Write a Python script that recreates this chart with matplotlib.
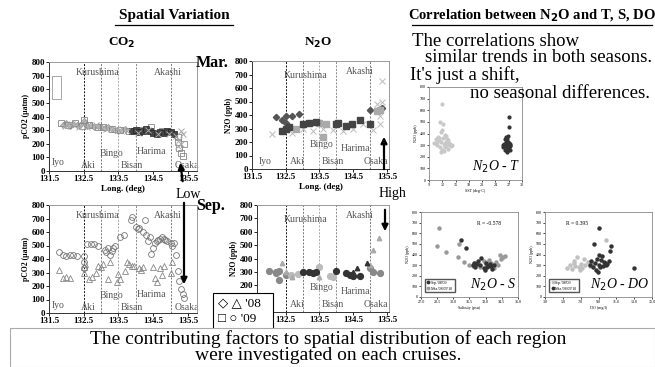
import matplotlib.pyplot as plt
from matplotlib.patches import Rectangle, FancyArrowPatch

plt.rcParams['font.family'] = ['Liberation Serif', 'DejaVu Sans']

# ---- spatial variation data (longitude deg E, value) ----
bound_lon = [132.5, 133.0, 133.5, 134.0, 135.0]
lon_ticks = [131.5, 132.5, 133.5, 134.5, 135.5]
val_ticks = [0, 100, 200, 300, 400, 500, 600, 700, 800]

# CO2, March
co2_mar_lon_a = [131.9, 132.0, 132.1, 132.2, 132.3, 132.4, 132.5, 132.55, 132.6, 132.7,
                 132.8, 132.9, 133.0, 133.1, 133.2, 133.3, 133.4, 133.5, 133.6, 133.7]
co2_mar_a = [340, 350, 330, 345, 335, 340, 365, 350, 330, 335,
             325, 330, 320, 315, 320, 305, 300, 295, 300, 305]
co2_mar_lon_b = [133.9, 134.0, 134.1, 134.2, 134.3, 134.4, 134.5, 134.6, 134.7, 134.8,
                 134.9, 135.0, 135.1]
co2_mar_b = [290, 300, 285, 295, 310, 290, 280, 275, 285, 280, 290, 285, 270]
co2_mar_lon_c = [131.95, 132.15, 132.35, 132.6, 132.85, 133.15, 133.45, 133.75, 134.05,
                 134.35, 134.65, 134.95, 135.15, 135.2, 135.25, 135.3, 135.35, 135.3]
co2_mar_c = [330, 345, 320, 325, 335, 310, 310, 295, 280,
             300, 270, 275, 260, 180, 230, 290, 270, 200]
co2_mar_lon_d = [131.85, 132.05, 132.25, 132.45, 132.5, 132.65, 132.9, 133.05, 133.3,
                 133.55, 133.8, 134.15, 134.45, 134.75, 135.2, 135.22, 135.25, 135.3,
                 135.35, 135.38]
co2_mar_d = [355, 335, 350, 330, 375, 340, 320, 325, 310,
             300, 295, 300, 320, 295, 250, 210, 170, 130, 110, 200]

# CO2, September
co2_sep_lon_o = [131.8, 131.9, 132.0, 132.1, 132.2, 132.3, 132.5, 132.5, 132.5, 132.6,
                 132.7, 132.8, 132.9, 133.1, 133.15, 133.2, 133.25, 133.3, 133.35, 133.4,
                 133.55, 133.65, 133.85, 133.9, 134.0, 134.05, 134.1, 134.2, 134.25, 134.3,
                 134.35, 134.4, 134.45, 134.5, 134.55, 134.6, 134.65, 134.7, 134.75, 134.8,
                 134.85, 134.9, 135.0, 135.05, 135.1, 135.15, 135.2, 135.25, 135.3, 135.35,
                 135.4]
co2_sep_o = [450, 430, 420, 430, 430, 425, 420, 380, 330, 510,
             510, 510, 500, 470, 450, 480, 430, 460, 480, 500,
             560, 580, 690, 710, 640, 620, 630, 600, 690, 580,
             530, 560, 440, 480, 520, 530, 540, 550, 560, 550,
             540, 530, 520, 500, 520, 430, 310, 240, 180, 140,
             110]
co2_sep_lon_t = [131.8, 131.9, 132.0, 132.1, 132.5, 132.5, 132.55, 132.65, 132.75, 132.85,
                 132.9, 133.0, 133.05, 133.2, 133.25, 133.45, 133.5, 133.55, 133.7, 133.75,
                 133.8, 133.9, 133.95, 134.1, 134.15, 134.2, 134.5, 134.55, 134.6, 134.7,
                 134.75, 134.8, 135.0, 135.05]
co2_sep_t = [320, 260, 270, 260, 300, 340, 360, 250, 270, 300,
             350, 340, 360, 250, 380, 230, 290, 250, 310, 380,
             360, 350, 350, 330, 320, 340, 340, 260, 230, 330,
             280, 350, 300, 380]

# N2O, March
n2o_mar_lon_dia = [132.2, 132.4, 132.5, 132.5, 132.7, 132.9, 135.0, 135.35]
n2o_mar_dia = [385, 360, 390, 340, 390, 410, 440, 450]
n2o_mar_lon_sq_dark = [132.4, 132.5, 132.6, 133.0, 133.2, 133.4, 134.0, 134.05, 134.3,
                       134.45, 134.7, 135.0]
n2o_mar_sq_dark = [280, 300, 310, 330, 340, 350, 330, 340, 320, 330, 360, 330]
n2o_mar_lon_sq_light = [132.8, 133.5, 133.6, 133.7, 135.2, 135.3]
n2o_mar_sq_light = [300, 340, 240, 330, 430, 440]
n2o_mar_lon_x = [132.1, 132.5, 132.7, 133.0, 133.3, 133.6, 133.9, 134.2, 134.5, 134.8,
                 135.1, 135.2, 135.35, 135.35, 135.3, 135.3]
n2o_mar_x = [260, 290, 270, 300, 280, 300, 290, 280, 300, 330,
             290, 480, 650, 500, 330, 390]

# N2O, September
n2o_sep_lon_ci = [132.0, 132.2, 132.2, 132.3, 132.3, 132.5, 135.0, 135.1, 135.3]
n2o_sep_ci = [310, 290, 300, 240, 310, 280, 330, 300, 290]
n2o_sep_lon_ci_dark = [133.0, 133.2, 133.3, 133.4, 134.0, 134.3, 134.4, 134.5, 134.7]
n2o_sep_ci_dark = [300, 300, 290, 300, 310, 290, 280, 270, 270]
n2o_sep_lon_ci_light = [132.65, 132.85, 133.5, 133.8, 133.9]
n2o_sep_ci_light = [280, 285, 340, 270, 260]
n2o_sep_lon_tri = [132.4, 132.5, 132.7, 133.5, 135.0, 135.1, 135.25]
n2o_sep_tri = [370, 300, 260, 260, 350, 460, 550]
n2o_sep_lon_tri_dark = [134.5, 134.6, 134.9]
n2o_sep_tri_dark = [300, 330, 370]

# ---- correlation data ----
t_mar_sst = [10.2, 10.5, 10.8, 11.0, 11.2, 11.4, 11.6, 11.8, 12.0, 12.2, 12.4, 12.6, 12.8,
             13.0, 13.2, 13.4, 13.6, 13.8, 14.0, 11.5, 12.1, 12.5, 11.9, 12.3, 13.1, 10.9,
             11.3, 12.7, 13.5, 14.2, 12.0, 11.7, 12.9]
t_mar_n2o = [320, 350, 300, 370, 340, 280, 410, 330, 260, 360, 310, 290, 380,
             300, 340, 270, 320, 300, 290, 500, 480, 390, 430, 250, 350, 330,
             360, 280, 310, 300, 650, 240, 330]
t_sep_sst = [25.6, 25.8, 26.0, 26.1, 26.2, 26.3, 26.4, 26.5, 26.6, 26.7, 26.8, 26.9, 27.0,
             27.1, 27.2, 27.3, 27.4, 26.2, 26.5, 26.8, 27.0, 26.4, 26.6, 27.2, 27.0, 27.1]
t_sep_n2o = [300, 280, 310, 260, 290, 330, 300, 240, 350, 310, 380, 290, 270,
             320, 300, 260, 310, 350, 280, 330, 300, 370, 250, 290, 460, 540]

s_sep_sal = [30.7, 31.2, 31.8, 32.0, 32.3, 32.5, 32.8, 33.0, 33.2, 33.4, 33.6, 33.8, 32.6,
             33.1, 31.9, 32.9, 33.5, 32.2]
s_sep_n2o = [540, 460, 300, 280, 340, 300, 270, 320, 290, 310, 260, 300, 370,
             280, 320, 250, 290, 310]
s_mar_sal = [28.7, 28.5, 29.3, 30.5, 30.4, 31.0, 31.5, 32.0, 32.5, 33.0, 33.3, 33.6, 34.0,
             34.3, 34.6, 34.8, 33.8, 34.1, 32.8, 31.8, 33.5, 34.4]
s_mar_n2o = [650, 480, 420, 500, 380, 330, 300, 320, 280, 310, 350, 300, 330,
             400, 380, 390, 270, 300, 340, 290, 320, 360]

do_sep = [5.5, 5.8, 6.0, 6.2, 6.4, 6.6, 6.8, 7.0, 7.2, 7.5, 7.8, 8.0, 8.3, 6.3, 6.9, 7.4, 9.8]
do_sep_n2o = [270, 300, 260, 320, 290, 380, 280, 310, 270, 300, 330, 290, 310, 340, 250,
              360, 540]
do_mar = [8.0, 8.2, 8.4, 8.5, 8.6, 8.8, 9.0, 9.0, 9.2, 9.4, 9.6, 9.8, 10.0, 10.2, 10.3,
          10.4, 13.0, 8.7, 9.1, 9.5, 8.9, 9.3, 9.7]
do_mar_n2o = [300, 340, 280, 500, 320, 360, 650, 300, 280, 390, 330, 300, 310, 340, 430,
              480, 270, 250, 400, 290, 240, 350, 320]

W, H = 655, 367
fig = plt.figure(figsize=(W / 100, H / 100), dpi=100)


def box(l, t, r, b):
    return [l / W, 1 - b / H, (r - l) / W, (b - t) / H]


def fx(px):
    return px / W


def fy(py):
    return 1 - py / H


def spatial_axes(rect, xlim, labels, ylabel, xlabel=True, xticks=lon_ticks,
                 yticks=val_ticks):
    ax = fig.add_axes(rect)
    ax.set_xlim(*xlim)
    ax.set_ylim(0, 800)
    ax.set_xticks(xticks)
    ax.set_yticks(yticks)
    ax.tick_params(labelsize=6.5, length=2, width=0.6, pad=1)
    for t in ax.get_xticklabels() + ax.get_yticklabels():
        t.set_fontweight('bold')
    for s in ax.spines.values():
        s.set_color('#999999')
        s.set_linewidth(0.7)
    ax.spines['bottom'].set_color('#333333')
    ax.spines['left'].set_color('#333333')
    cols = ['#111111', '#777777', '#aaaaaa', '#888888', '#777777']
    for x, c in zip(bound_lon, cols):
        ax.axvline(x, color=c, lw=0.7, ls=(0, (2, 1.5)), zorder=1)
    for name, (x, y) in labels.items():
        ax.text(x, y, name, fontsize=7, color='#555555', ha='center', va='center', zorder=2)
    ax.set_ylabel(ylabel, fontsize=5.5, fontweight='bold', labelpad=1)
    if xlabel:
        ax.set_xlabel('Long. (deg)', fontsize=6.5, fontweight='bold', labelpad=1)
    return ax


co2_labels = {'Iyo': (131.76, 59), 'Aki': (132.62, 44), 'Bingo': (133.3, 132),
              'Bisan': (133.89, 44), 'Harima': (134.46, 140), 'Osaka': (135.47, 44),
              'Kurushima': (132.9, 720), 'Akashi': (134.92, 720)}
n2o_labels = {'Iyo': (131.89, 59), 'Aki': (132.83, 59), 'Bingo': (133.55, 185),
              'Bisan': (133.9, 59), 'Harima': (134.58, 155), 'Osaka': (135.17, 59),
              'Kurushima': (133.1, 690), 'Akashi': (134.7, 725)}
# in the September N2O panel the year legend covers the Iyo label
n2o_sep_labels = {k: v for k, v in n2o_labels.items() if k != 'Iyo'}

ms = 3.2

# CO2 March
ax1 = spatial_axes(box(49, 62, 197, 171), (131.5, 135.76), co2_labels, 'pCO2 (µatm)')
ax1.plot(co2_mar_lon_a, co2_mar_a, 'D', ms=ms, color='#bbbbbb', mec='#999999', mew=0.5)
ax1.plot(co2_mar_lon_d, co2_mar_d, 's', ms=ms + 0.5, mfc='none', mec='#888888', mew=0.6)
ax1.plot(co2_mar_lon_b, co2_mar_b, 's', ms=ms + 0.5, color='#444444', mec='#222222', mew=0.5)
ax1.plot(co2_mar_lon_c, co2_mar_c, 'x', ms=ms + 0.5, color='#aaaaaa', mew=0.7)
ax1.add_patch(Rectangle((131.6, 530), 0.25, 170, fill=False, ec='#999999', lw=0.6))

# CO2 September
ax2 = spatial_axes(box(49, 205, 197, 313), (131.5, 135.76), co2_labels, 'pCO2 (µatm)',
                   xlabel=False)
ax2.plot(co2_sep_lon_t, co2_sep_t, '^', ms=ms + 0.5, mfc='none', mec='#888888', mew=0.6)
ax2.plot(co2_sep_lon_o, co2_sep_o, 'o', ms=ms + 1, mfc='none', mec='#777777', mew=0.6)

# N2O March
ax3 = spatial_axes(box(252, 61, 389, 169), (131.5, 135.56), n2o_labels, 'N2O (ppb)')
ax3.plot(n2o_mar_lon_x, n2o_mar_x, 'x', ms=ms + 0.5, color='#bbbbbb', mew=0.7)
ax3.plot(n2o_mar_lon_dia, n2o_mar_dia, 'D', ms=ms, color='#555555')
ax3.plot(n2o_mar_lon_sq_light, n2o_mar_sq_light, 's', ms=ms + 0.5, color='#aaaaaa')
ax3.plot(n2o_mar_lon_sq_dark, n2o_mar_sq_dark, 's', ms=ms + 0.5, color='#444444')

# N2O September (lowest y ticks are hidden behind the year legend)
ax4 = spatial_axes(box(257, 205, 389, 312), (131.65, 135.56), n2o_sep_labels, 'N2O (ppb)',
                   xlabel=False, xticks=lon_ticks[1:], yticks=val_ticks[2:])
ax4.plot(n2o_sep_lon_ci, n2o_sep_ci, 'o', ms=ms + 1, color='#888888')
ax4.plot(n2o_sep_lon_ci_light, n2o_sep_ci_light, 'o', ms=ms + 1, color='#bbbbbb')
ax4.plot(n2o_sep_lon_ci_dark, n2o_sep_ci_dark, 'o', ms=ms + 1, color='#333333')
ax4.plot(n2o_sep_lon_tri, n2o_sep_tri, '^', ms=ms, color='#aaaaaa')
ax4.plot(n2o_sep_lon_tri_dark, n2o_sep_tri_dark, '^', ms=ms, color='#333333')


def corr_axes(rect, xlim, xticks, xlabel, tag):
    ax = fig.add_axes(rect)
    ax.set_xlim(*xlim)
    ax.set_ylim(0, 800)
    ax.set_xticks(xticks)
    ax.set_yticks(val_ticks)
    ax.tick_params(labelsize=3, length=1.5, width=0.5, pad=1)
    for s in ax.spines.values():
        s.set_color('#888888')
        s.set_linewidth(0.6)
    ax.set_xlabel(xlabel, fontsize=3, labelpad=1)
    ax.set_ylabel('N2O (ppb)', fontsize=3, labelpad=1)
    ax.text(0.98, 0.05, tag, transform=ax.transAxes, fontsize=10, style='italic',
            ha='right', va='bottom')
    return ax


ax5 = corr_axes(box(429, 87, 522, 180), (9, 30), [9, 12, 15, 18, 21, 24, 27, 30],
                'SST (deg-C)', 'N$_2$O - T')
ax5.plot(t_mar_sst, t_mar_n2o, 'o', ms=2, color='#c8c8c8')
ax5.plot(t_sep_sst, t_sep_n2o, 'o', ms=2, color='#333333')

ax6 = corr_axes(box(421, 212, 518, 297), (27, 36), [27, 28.5, 30, 31.5, 33, 34.5, 36],
                'Salinity (psu)', 'N$_2$O - S')
ax6.set_xticklabels(['27.0', '28.5', '30.0', '31.5', '33.0', '34.5', '36.0'])
ax6.plot(s_mar_sal, s_mar_n2o, 'o', ms=2.2, color='#999999', label="Mar.'08'09'10")
ax6.plot(s_sep_sal, s_sep_n2o, 'o', ms=2.2, color='#333333', label="Sep.'08'09")
ax6.text(0.7, 0.85, 'R = -0.578', transform=ax6.transAxes, fontsize=4, ha='center')
h, l = ax6.get_legend_handles_labels()
ax6.legend(h[::-1], l[::-1], loc='lower left', fontsize=3, markerscale=0.8,
           handletextpad=0.2, borderpad=0.4, fancybox=False, edgecolor='#555555',
           framealpha=1, handlelength=0.8, bbox_to_anchor=(0.02, 0.03))

ax7 = corr_axes(box(545, 212, 652, 297), (3, 15), [3, 5, 7, 9, 11, 13, 15],
                'DO (mg/l)', 'N$_2$O - DO')
ax7.set_xticklabels(['3.0', '5.0', '7.0', '9.0', '11.0', '13.0', '15.0'])
ax7.plot(do_sep, do_sep_n2o, 'o', ms=2.2, color='#c0c0c0', label="Sep.'08'09")
ax7.plot(do_mar, do_mar_n2o, 'o', ms=2.2, color='#333333', label="Mar.'08'09'10")
ax7.text(0.3, 0.85, 'R = 0.395', transform=ax7.transAxes, fontsize=4, ha='center')
ax7.legend(loc='lower left', fontsize=3, markerscale=0.8, handletextpad=0.2,
           borderpad=0.4, fancybox=False, edgecolor='#555555', framealpha=1,
           handlelength=0.8, bbox_to_anchor=(0.02, 0.03))

# ---- slide texts ----
fig.text(fx(174), fy(16), 'Spatial Variation', fontsize=11, fontweight='bold',
         ha='center', va='center')
fig.add_artist(plt.Line2D([fx(115), fx(233)], [fy(25), fy(25)], color='black', lw=0.9))
fig.text(fx(532), fy(16), 'Correlation between N$_\\mathbf{2}$O and T, S, DO', fontsize=10.5,
         fontweight='bold', ha='center', va='center')
fig.add_artist(plt.Line2D([fx(412), fx(652)], [fy(25), fy(25)], color='black', lw=0.9))
fig.text(fx(122), fy(43), 'CO$_\\mathbf{2}$', fontsize=9.5, fontweight='bold',
         ha='center', va='center')
fig.text(fx(318), fy(43), 'N$_\\mathbf{2}$O', fontsize=9.5, fontweight='bold',
         ha='center', va='center')
fig.text(fx(196), fy(63), 'Mar.', fontsize=11.5, fontweight='bold', ha='left', va='center')
fig.text(fx(196), fy(206), 'Sep.', fontsize=11.5, fontweight='bold', ha='left', va='center')

fig.text(fx(412), fy(42), 'The correlations show', fontsize=13.5, va='center')
fig.text(fx(425), fy(58), 'similar trends in both seasons.', fontsize=13.5, va='center')
fig.text(fx(410), fy(75), "It's just a shift,", fontsize=13.5, va='center')
fig.text(fx(470), fy(94), 'no seasonal differences.', fontsize=13.5, va='center')

fig.text(fx(188), fy(194), 'Low', fontsize=10, ha='center', va='center')
fig.text(fx(392), fy(194), 'High', fontsize=10, ha='center', va='center')


def arrow(x0, y0, x1, y1):
    fig.add_artist(FancyArrowPatch((fx(x0), fy(y0)), (fx(x1), fy(y1)),
                                   transform=fig.transFigure, arrowstyle='-|>',
                                   mutation_scale=9, lw=1.6, color='black'))


arrow(183, 184, 180, 160)
arrow(184, 200, 184, 287)
arrow(384, 172, 384, 134)
arrow(385, 207, 385, 234)

# legend box for years
fig.add_artist(Rectangle((fx(213), fy(330)), fx(273) - fx(213), fy(293) - fy(330),
                         transform=fig.transFigure, fc='white', ec='black', lw=0.8))
fig.text(fx(218), fy(304), "◇ △ '08", fontsize=9.5, va='center')
fig.text(fx(218), fy(319), "□ ○ '09", fontsize=9.5, va='center')

# bottom box
fig.add_artist(Rectangle((fx(10), 0), 1 - fx(10), fy(328), transform=fig.transFigure,
                         fc='white', ec='#aaaaaa', lw=0.8))
fig.text(fx(328), fy(339), 'The contributing factors to spatial distribution of each region',
         fontsize=14, ha='center', va='center')
fig.text(fx(328), fy(355), 'were investigated on each cruises.', fontsize=14,
         ha='center', va='center')

fig.savefig('out.png', dpi=100)
